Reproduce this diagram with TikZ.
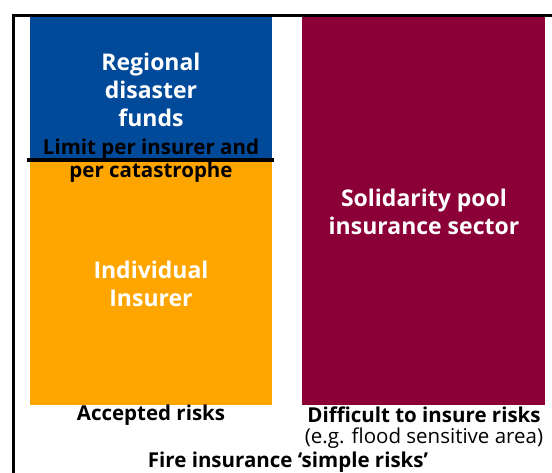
\documentclass[tikz,border=0pt]{standalone}
\usepackage{fontspec}
\setmainfont{Open Sans}
\definecolor{cblue}{RGB}{0,74,153}
\definecolor{corange}{RGB}{255,165,0}
\definecolor{cmaroon}{RGB}{139,0,55}
\begin{document}
\begin{tikzpicture}[x=1pt,y=-1pt,
  wtxt/.style={text=white,font=\fontsize{23}{28}\selectfont\bfseries,align=center,inner sep=0pt},
  btxt/.style={text=black,font=\fontsize{20.5}{23}\selectfont\bfseries,align=center,inner sep=0pt},
  ltxt/.style={text=black,font=\fontsize{20.5}{23}\selectfont\bfseries,align=center,inner sep=0pt}]
\useasboundingbox (0,0) rectangle (552,472);
\draw[line width=3pt] (13.5,600) -- (13.5,15.5) -- (600,15.5);
\fill[cblue] (30,17) rectangle (272,159);
\fill[corange] (30,159) rectangle (272,405);
\fill[cmaroon] (302,17) rectangle (545,405);
\draw[line width=3.2pt] (27,160) -- (274,160);
\node[wtxt] (reg) at (151,90) {Regional\\disaster\\funds};
\node[btxt] (lim) at (151,161) {Limit per insurer and\\per catastrophe};
\node[wtxt] (ind) at (151,284) {Individual\\Insurer};
\node[wtxt] (sol) at (424,212) {Solidarity pool\\insurance sector};
\node[ltxt] (acc) at (151,415) {Accepted risks};
\node[ltxt] (dif) at (424,415) {Difficult to insure risks};
\node[text=black,font=\fontsize{20.5}{23}\selectfont,inner sep=0pt] (eg) at (424,438) {(e.g. flood sensitive area)};
\node[ltxt] (fire) at (288,462) {Fire insurance ‘simple risks’};
\end{tikzpicture}
\end{document}
